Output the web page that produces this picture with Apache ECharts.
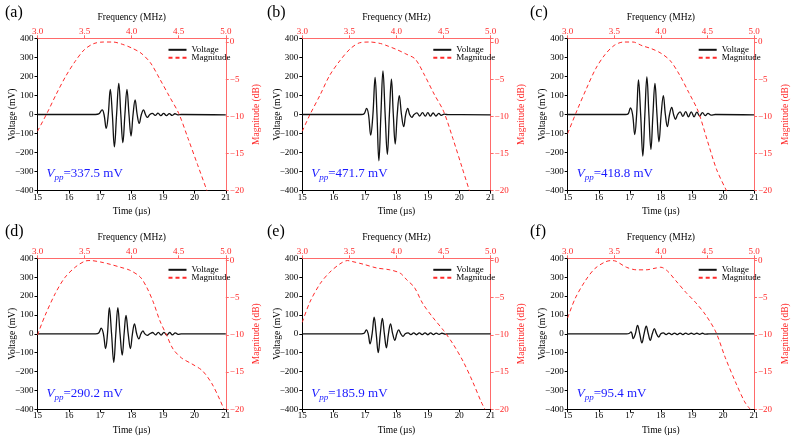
<!DOCTYPE html>
<html>
<head>
<meta charset="utf-8">
<script src="https://cdn.jsdelivr.net/npm/echarts@6/dist/echarts.min.js"></script>
<style>
  html, body { margin: 0; padding: 0; background: #fff; }
  #chart { width: 791px; height: 442px; }
</style>
</head>
<body>
<div id="chart"></div>
<script>
var panelLabels = ['(a)', '(b)', '(c)', '(d)', '(e)', '(f)'];
var vppValues = ['337.5', '471.7', '418.8', '290.2', '185.9', '95.4'];
var legendNames = ['Voltage', 'Magnitude'];

// voltage waveforms, [time (us), voltage (mV)]
var voltageA = [[15,0],[16.85,0],[16.95,3],[17.06,24],[17.12,0],[17.19,-73],[17.255,0],[17.32,132],[17.385,0],[17.45,-170],[17.52,0],[17.59,163],[17.655,0],[17.72,-148],[17.785,0],[17.85,132],[17.915,0],[17.98,-113],[18.045,0],[18.11,76],[18.175,0],[18.24,-47],[18.31,0],[18.38,24],[18.44,0],[18.5,-15],[18.58,0],[18.66,6],[18.75,-5],[18.84,7],[18.93,-6],[19.02,6],[19.11,-6],[19.2,5],[19.29,-5],[19.38,4],[19.47,-2],[19.58,0],[21,-2]];
var voltageB = [[15,0],[16.88,0],[16.97,4],[17.05,32],[17.11,0],[17.18,-108],[17.25,0],[17.32,195],[17.38,0],[17.44,-243],[17.505,0],[17.57,229],[17.64,0],[17.71,-209],[17.775,0],[17.84,185],[17.9,0],[17.96,-155],[18.025,0],[18.09,99],[18.16,0],[18.23,-64],[18.295,0],[18.36,32],[18.42,0],[18.49,-15],[18.56,0],[18.65,9],[18.74,-8],[18.83,10],[18.92,-9],[19.0,10],[19.08,-9],[19.17,8],[19.26,-8],[19.35,6],[19.43,-5],[19.52,2],[19.62,0],[21,-2]];
var voltageC = [[15,0],[16.86,0],[16.95,4],[17.02,35],[17.09,0],[17.16,-105],[17.22,0],[17.28,181],[17.35,0],[17.42,-218],[17.485,0],[17.55,198],[17.615,0],[17.68,-183],[17.745,0],[17.81,163],[17.875,0],[17.94,-143],[18.01,0],[18.08,99],[18.145,0],[18.21,-64],[18.28,0],[18.35,37],[18.41,0],[18.47,-25],[18.54,0],[18.62,14],[18.71,-10],[18.8,15],[18.89,-12],[18.98,14],[19.07,-12],[19.16,12],[19.25,-8],[19.34,10],[19.43,-6],[19.52,6],[19.62,-3],[19.75,0],[21,-2]];
var voltageD = [[15,0],[16.85,0],[16.95,4],[17.03,30],[17.1,0],[17.17,-78],[17.23,0],[17.29,138],[17.36,0],[17.43,-152],[17.495,0],[17.56,138],[17.63,0],[17.7,-113],[17.76,0],[17.82,97],[17.89,0],[17.96,-78],[18.025,0],[18.09,53],[18.16,0],[18.23,-27],[18.295,0],[18.36,15],[18.42,0],[18.5,-8],[18.58,0],[18.67,7],[18.76,-6],[18.85,8],[18.94,-7],[19.03,8],[19.12,-7],[19.21,7],[19.3,-6],[19.39,5],[19.48,-3],[19.58,0],[21,0]];
var voltageE = [[15,0],[16.88,0],[16.97,3],[17.04,21],[17.1,0],[17.16,-53],[17.225,0],[17.29,88],[17.355,0],[17.42,-100],[17.485,0],[17.55,82],[17.615,0],[17.68,-74],[17.745,0],[17.81,53],[17.88,0],[17.95,-35],[18.01,0],[18.07,21],[18.14,0],[18.21,-14],[18.28,0],[18.37,5],[18.46,-4],[18.55,5],[18.64,-5],[18.73,5],[18.82,-4],[18.91,5],[19.0,-5],[19.09,5],[19.18,-4],[19.27,4],[19.36,-3],[19.45,3],[19.55,-2],[19.65,0],[21,0]];
var voltageF = [[15,0],[16.9,0],[16.99,3],[17.04,10],[17.07,0],[17.11,-25],[17.18,0],[17.25,45],[17.32,0],[17.39,-48],[17.46,0],[17.53,40],[17.595,0],[17.66,-35],[17.725,0],[17.79,27],[17.86,0],[17.93,-17],[18.0,0],[18.08,5],[18.17,-4],[18.26,4],[18.35,-4],[18.44,4],[18.53,-4],[18.62,4],[18.71,-4],[18.8,4],[18.89,-3],[18.98,3],[19.07,-3],[19.16,3],[19.25,-3],[19.34,3],[19.43,-2],[19.55,0],[21,0]];

// magnitude spectra, [frequency (MHz), magnitude (dB)]
var magnitudeA = [[3.0,-12.0],[3.1,-9.6],[3.2,-7.0],[3.3,-4.6],[3.4,-2.6],[3.5,-1.0],[3.6,-0.2],[3.7,0],[3.8,0],[3.9,-0.3],[4.0,-0.8],[4.1,-1.5],[4.2,-2.8],[4.3,-5.0],[4.4,-7.3],[4.5,-9.6],[4.6,-13.0],[4.7,-16.5],[4.8,-20.0]];
var magnitudeB = [[3.0,-12.0],[3.08,-9.8],[3.19,-7.1],[3.29,-4.5],[3.4,-2.5],[3.51,-0.9],[3.61,-0.1],[3.72,0],[3.83,-0.2],[3.9,-0.5],[4.0,-1.0],[4.1,-1.6],[4.2,-2.3],[4.3,-4.5],[4.4,-7.0],[4.5,-9.3],[4.6,-13.0],[4.7,-17.0],[4.775,-20.0]];
var magnitudeC = [[3.0,-12.3],[3.1,-9.2],[3.2,-6.3],[3.3,-3.6],[3.4,-1.7],[3.5,-0.45],[3.6,0],[3.7,0],[3.8,-0.5],[3.9,-0.9],[4.0,-1.5],[4.1,-2.5],[4.2,-4.4],[4.3,-6.8],[4.4,-9.3],[4.5,-13.3],[4.6,-17.2],[4.705,-20.0]];
var magnitudeD = [[3.0,-10.0],[3.08,-7.4],[3.19,-4.4],[3.29,-2.3],[3.4,-0.9],[3.5,-0.1],[3.56,0],[3.67,-0.2],[3.77,-0.5],[3.88,-0.9],[3.98,-1.3],[4.09,-2.2],[4.16,-3.6],[4.23,-5.6],[4.3,-8.1],[4.37,-10.0],[4.44,-11.9],[4.53,-13.1],[4.64,-13.9],[4.75,-14.8],[4.85,-16.5],[4.94,-18.8],[4.98,-20.0]];
var magnitudeE = [[3.0,-8.3],[3.08,-5.6],[3.19,-3.1],[3.29,-1.6],[3.4,-0.45],[3.48,0],[3.52,-0.1],[3.65,-0.5],[3.79,-1.0],[3.93,-1.25],[4.04,-1.7],[4.11,-2.6],[4.19,-3.6],[4.28,-5.8],[4.39,-7.7],[4.5,-9.4],[4.6,-11.2],[4.71,-13.6],[4.81,-16.3],[4.9,-19.0],[4.94,-20.0]];
var magnitudeF = [[3.0,-7.7],[3.08,-5.1],[3.19,-2.7],[3.29,-1.1],[3.4,-0.2],[3.47,0],[3.52,-0.1],[3.63,-0.9],[3.74,-1.25],[3.84,-1.25],[3.95,-1.0],[4.0,-0.9],[4.07,-1.4],[4.16,-2.7],[4.27,-4.3],[4.37,-5.6],[4.48,-7.3],[4.59,-9.6],[4.69,-13.0],[4.8,-16.3],[4.9,-19.0],[4.96,-20.0]];

var voltageData = [voltageA, voltageB, voltageC, voltageD, voltageE, voltageF];
var magnitudeData = [magnitudeA, magnitudeB, magnitudeC, magnitudeD, magnitudeE, magnitudeF];

// layout
var plotLeft = [37.5, 302.3, 567.7];
var plotTop = [38.3, 258.3];
var plotHeight = [152.4, 151];
var plotWidth = 188.3;
var magTop = [0.5, 0.3];
var labelX = [5, 267, 530];
var labelY = [5, 224];

var FONT = '"Liberation Serif", "Times New Roman", serif';
var RED = '#ff2a2a';
var RED_LINE = '#ff6a6a';
var BLUE = '#1a1aff';

function minus(v) {
  return String(v).replace('-', '\u2212');
}

var myChart = echarts.init(document.getElementById('chart'), null, { renderer: 'canvas' });

var option = {
  animation: false,
  backgroundColor: '#fff',
  textStyle: { fontFamily: FONT },
  grid: [],
  xAxis: [],
  yAxis: [],
  series: [],
  legend: [],
  graphic: []
};

for (var i = 0; i < 6; i++) {
  var col = i % 3, row = Math.floor(i / 3);
  var L = plotLeft[col], T = plotTop[row], H = plotHeight[row];

  option.grid.push({ left: L, top: T, width: plotWidth, height: H, containLabel: false });

  // time axis (bottom)
  option.xAxis.push({
    type: 'value', gridIndex: i, position: 'bottom',
    min: 15, max: 21, interval: 1,
    name: 'Time (\u00b5s)', nameLocation: 'middle', nameGap: 16, nameMoveOverlap: false,
    nameTextStyle: { color: '#000', fontSize: 9.5, fontFamily: FONT },
    axisLine: { onZero: false, lineStyle: { color: '#000', width: 1 } },
    axisTick: { inside: false, length: 3, lineStyle: { color: '#000' } },
    axisLabel: { color: '#000', fontSize: 9, margin: 2, fontFamily: FONT },
    splitLine: { show: false }
  });
  // frequency axis (top)
  option.xAxis.push({
    type: 'value', gridIndex: i, position: 'top',
    min: 3, max: 5, interval: 0.5,
    name: 'Frequency (MHz)', nameLocation: 'middle', nameGap: 16, nameMoveOverlap: false,
    nameTextStyle: { color: '#000', fontSize: 9.5, fontFamily: FONT },
    axisLine: { onZero: false, lineStyle: { color: RED_LINE, width: 1 } },
    axisTick: { inside: false, length: 3, lineStyle: { color: RED_LINE } },
    axisLabel: { color: RED, fontSize: 9, margin: 2, fontFamily: FONT,
      formatter: function (v) { return v.toFixed(1); } },
    splitLine: { show: false }
  });
  // voltage axis (left)
  option.yAxis.push({
    type: 'value', gridIndex: i, position: 'left',
    min: -400, max: 400, interval: 100,
    name: 'Voltage (mV)', nameLocation: 'middle', nameGap: 20, nameMoveOverlap: false,
    nameTextStyle: { color: '#000', fontSize: 9.5, fontFamily: FONT },
    axisLine: { show: true, onZero: false, lineStyle: { color: '#000', width: 1 } },
    axisTick: { show: true, inside: false, length: 3, lineStyle: { color: '#000' } },
    axisLabel: { color: '#000', fontSize: 9, margin: 4, fontFamily: FONT, formatter: minus },
    splitLine: { show: false }
  });
  // magnitude axis (right)
  option.yAxis.push({
    type: 'value', gridIndex: i, position: 'right',
    min: -20, max: magTop[row], interval: 5,
    name: 'Magnitude (dB)', nameLocation: 'middle', nameGap: 26, nameMoveOverlap: false,
    nameTextStyle: { color: RED, fontSize: 9.5, fontFamily: FONT },
    axisLine: { show: true, onZero: false, lineStyle: { color: RED_LINE, width: 1 } },
    axisTick: { show: true, inside: false, length: 3, lineStyle: { color: RED_LINE } },
    axisLabel: { color: RED, fontSize: 9, margin: 4, fontFamily: FONT,
      formatter: function (v) { return (v % 5 !== 0) ? '' : minus(v); } },
    splitLine: { show: false }
  });

  option.series.push({
    type: 'line', name: 'Voltage', xAxisIndex: 2 * i, yAxisIndex: 2 * i,
    data: voltageData[i], symbol: 'none', smooth: 0.4,
    lineStyle: { color: '#111', width: 1.3 }, itemStyle: { color: '#111' }
  });
  option.series.push({
    type: 'line', name: 'Magnitude', xAxisIndex: 2 * i + 1, yAxisIndex: 2 * i + 1,
    data: magnitudeData[i], symbol: 'none', smooth: 0.3, clip: true,
    lineStyle: { color: RED, width: 1, type: [4, 3] }, itemStyle: { color: RED }
  });

  option.legend.push({
    orient: 'vertical', left: L + 130, top: T + 7, padding: 0,
    itemWidth: 18, itemHeight: 6, itemGap: -1, selectedMode: false,
    itemStyle: { opacity: 0 },
    textStyle: { fontSize: 9, color: '#000', fontFamily: FONT, lineHeight: 8 },
    data: legendNames
  });

  option.graphic.push({
    type: 'text', left: labelX[col], top: labelY[row],
    style: { text: panelLabels[i], font: '16px ' + FONT, fill: '#000' }
  });
  option.graphic.push({
    type: 'text', left: L + 9, top: T + 129,
    style: {
      text: '{v|V}{s|pp}{n|=' + vppValues[i] + ' mV}',
      fill: BLUE,
      rich: {
        v: { fontStyle: 'italic', fontSize: 13, lineHeight: 14, verticalAlign: 'top', fontFamily: FONT, fill: BLUE },
        s: { fontStyle: 'italic', fontSize: 9, lineHeight: 15, verticalAlign: 'bottom', fontFamily: FONT, fill: BLUE },
        n: { fontSize: 13, lineHeight: 14, verticalAlign: 'top', fontFamily: FONT, fill: BLUE }
      }
    }
  });
}

myChart.setOption(option);
window.addEventListener('resize', myChart.resize);
</script>
</body>
</html>
